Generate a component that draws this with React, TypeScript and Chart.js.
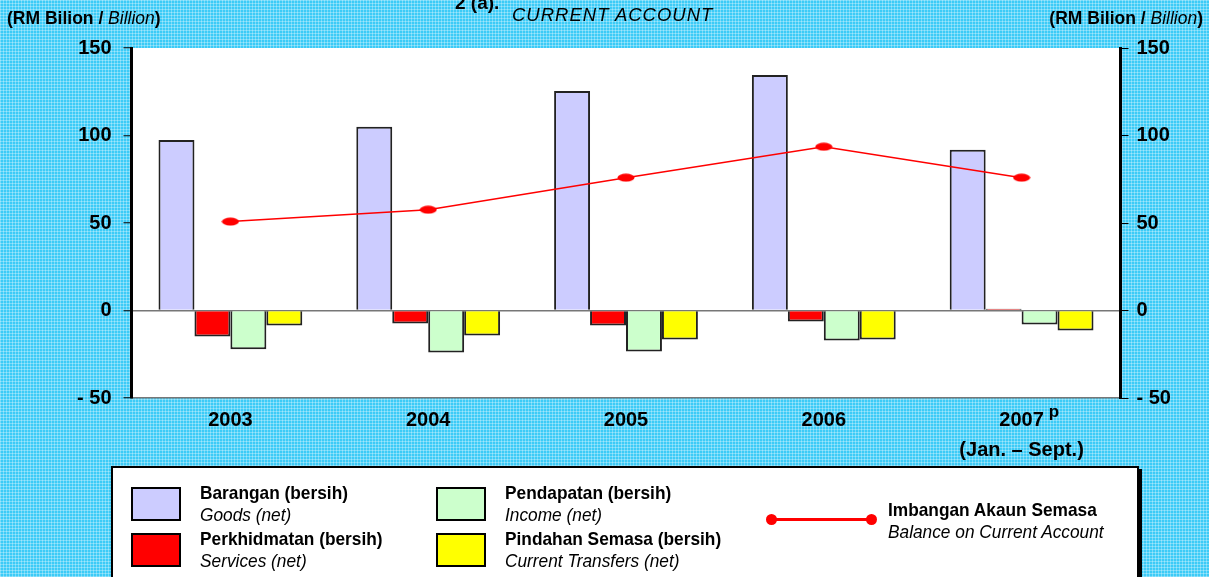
import React, { useEffect, useRef } from 'react';
import { Chart, registerables } from 'chart.js';

Chart.register(...registerables);

// ---------- data ----------
const categories = ['2003', '2004', '2005', '2006', '2007'];
const categoryNotes = ['', '', '', '', '(Jan. – Sept.)'];
const categorySup = ['', '', '', '', 'p'];
const goods = [97.5, 105, 125.5, 134.6, 91.8];
const services = [-14.8, -7.4, -8.6, -6.3, 1.0];
const income = [-22.2, -24.0, -23.4, -17.1, -8.0];
const transfers = [-8.6, -14.3, -16.5, -16.5, -11.4];
const balance = [50.8, 57.6, 75.9, 93.6, 75.9];
const yTicks = [-50, 0, 50, 100, 150];
const barNamesMalay = ['Barangan (bersih)', 'Perkhidmatan (bersih)', 'Pendapatan (bersih)', 'Pindahan Semasa (bersih)'];
const barNamesEnglish = ['Goods (net)', 'Services (net)', 'Income (net)', 'Current Transfers (net)'];
const lineNameMalay = 'Imbangan Akaun Semasa';
const lineNameEnglish = 'Balance on Current Account';
const unitMalay = 'RM Bilion';
const unitEnglish = 'Billion';
const titleNumber = '2 (a).';
const titleEnglish = 'CURRENT ACCOUNT';

// ---------- styles ----------
const FONT = "'Liberation Sans', Arial, sans-serif";
const barColors = ['#ccccff', '#ff0000', '#ccffcc', '#ffff00'];
const lineColor = '#ff0000';

const W = 1209;
const H = 577;

export default function App() {
  const ref = useRef<HTMLCanvasElement | null>(null);

  useEffect(() => {
    document.body.style.margin = '0';
    const canvas = ref.current;
    if (!canvas) return;

    const pc = document.createElement('canvas');
    pc.width = 18;
    pc.height = 9;
    const pctx = pc.getContext('2d')!;
    pctx.fillStyle = lineColor;
    pctx.beginPath();
    pctx.ellipse(9, 4.5, 8.5, 4, 0, 0, Math.PI * 2);
    pctx.fill();

    const plotBg = {
      id: 'plotBg',
      beforeDraw(chart: any) {
        const { ctx, chartArea } = chart;
        ctx.save();
        ctx.fillStyle = '#ffffff';
        ctx.fillRect(chartArea.left, chartArea.top, chartArea.right - chartArea.left, chartArea.bottom - chartArea.top);
        ctx.restore();
      },
    };

    const supPlugin = {
      id: 'supPlugin',
      afterDraw(chart: any) {
        const { ctx } = chart;
        const xs = chart.scales.x;
        ctx.save();
        ctx.fillStyle = '#000';
        categorySup.forEach((s, i) => {
          if (!s) return;
          const px = xs.getPixelForTick(i);
          ctx.font = `bold 20px ${FONT}`;
          const w = ctx.measureText(categories[i]).width;
          ctx.font = `bold 17px ${FONT}`;
          ctx.textAlign = 'left';
          ctx.textBaseline = 'alphabetic';
          ctx.fillText(s, px + w / 2 + 5, xs.top + 19);
        });
        ctx.restore();
      },
    };

    const tickFont = { family: FONT, size: 20, weight: 'bold' as const };

    const yCommon = {
      min: -50,
      max: 150,
      afterBuildTicks: (scale: any) => {
        scale.ticks = yTicks.map((v) => ({ value: v }));
      },
      ticks: {
        color: '#000',
        font: tickFont,
        callback: (v: any) => (v < 0 ? '- ' + Math.abs(v) : String(v)),
      },
      border: { display: true, color: '#000', width: 3 },
    };

    const chart = new Chart(canvas, {
      type: 'bar',
      data: {
        labels: categories.map((c, i) => (categoryNotes[i] ? [c, categoryNotes[i]] : c)),
        datasets: [
          ...[goods, services, income, transfers].map((d, i) => ({
            type: 'bar' as const,
            label: barNamesEnglish[i],
            data: d,
            backgroundColor: barColors[i],
            borderColor: '#222',
            borderWidth: 2,
            yAxisID: 'y',
            order: 2,
          })),
          {
            type: 'line' as const,
            label: lineNameEnglish,
            data: balance,
            borderColor: lineColor,
            borderWidth: 1.5,
            pointStyle: pc as any,
            pointRadius: 5,
            yAxisID: 'y',
            order: 0,
          } as any,
        ],
      },
      options: {
        responsive: false,
        animation: false,
        devicePixelRatio: 1,
        layout: { padding: { top: 48, left: 0, right: 0, bottom: 0 } },
        datasets: { bar: { categoryPercentage: 0.727, barPercentage: 1 } },
        plugins: { legend: { display: false }, tooltip: { enabled: false }, title: { display: false } },
        scales: {
          x: {
            grid: { display: false, drawTicks: false },
            border: { display: true, color: '#777', width: 1.5 },
            ticks: {
              color: '#000',
              padding: 7,
              maxRotation: 0,
              font: { ...tickFont, lineHeight: 1.5 },
            },
            afterFit: (s: any) => {
              s.height = 179;
            },
          },
          y: {
            ...yCommon,
            position: 'left',
            grid: {
              drawOnChartArea: true,
              drawTicks: true,
              tickLength: 8,
              tickColor: '#000',
              tickWidth: 1,
              lineWidth: 1.5,
              color: (ctx: any) => (ctx.tick && ctx.tick.value === 0 ? '#777' : 'rgba(0,0,0,0)'),
            },
            ticks: { ...yCommon.ticks, padding: 12 },
            afterFit: (s: any) => {
              s.width = 131.5;
            },
          },
          y1: {
            ...yCommon,
            position: 'right',
            grid: { drawOnChartArea: false, drawTicks: true, tickLength: 8, tickColor: '#000', tickWidth: 1 },
            ticks: { ...yCommon.ticks, padding: 8 },
            afterFit: (s: any) => {
              s.width = 88.5;
            },
          },
        },
      } as any,
      plugins: [plotBg, supPlugin],
    });

    return () => chart.destroy();
  }, []);

  const legendText = (malay: string, english: string, left: number, top: number) => (
    <div
      style={{
        position: 'absolute',
        left,
        top,
        fontFamily: FONT,
        fontSize: 19,
        lineHeight: '22px',
        color: '#000',
        whiteSpace: 'nowrap',
        transform: 'scaleX(0.91)',
        transformOrigin: 'left top',
      }}
    >
      <div style={{ fontWeight: 'bold' }}>{malay}</div>
      <div style={{ fontStyle: 'italic' }}>{english}</div>
    </div>
  );

  const swatchPos = [
    { left: 131, top: 487 },
    { left: 131, top: 533 },
    { left: 436, top: 487 },
    { left: 436, top: 533 },
  ];
  const legendOrder = [0, 1, 2, 3];

  const unitLabel = (
    <>
      <span style={{ fontWeight: 'bold' }}>({unitMalay} / </span>
      <span style={{ fontStyle: 'italic' }}>{unitEnglish}</span>
      <span style={{ fontWeight: 'bold' }}>)</span>
    </>
  );

  return (
    <div
      style={{
        position: 'fixed',
        left: 0,
        top: 0,
        width: W,
        height: H,
        overflow: 'hidden',
        backgroundColor: '#3ccbf7',
        backgroundImage:
          'repeating-linear-gradient(0deg, rgba(255,255,255,0.3) 0px, rgba(255,255,255,0.3) 1px, transparent 1px, transparent 3px), repeating-linear-gradient(90deg, rgba(255,255,255,0.3) 0px, rgba(255,255,255,0.3) 1px, transparent 1px, transparent 3px)',
        fontFamily: FONT,
      }}
    >
      <canvas ref={ref} width={W} height={H} style={{ position: 'absolute', left: 0, top: 0, width: W, height: H }} />

      {/* unit labels */}
      <div style={{ position: 'absolute', left: 7, top: 7, fontSize: 17.5, lineHeight: '22px', color: '#000', whiteSpace: 'nowrap' }}>
        {unitLabel}
      </div>
      <div style={{ position: 'absolute', right: 6, top: 7, fontSize: 17.5, lineHeight: '22px', color: '#000', whiteSpace: 'nowrap' }}>
        {unitLabel}
      </div>

      {/* title */}
      <div style={{ position: 'absolute', left: 455, top: -9, fontSize: 19, lineHeight: '24px', fontWeight: 'bold', color: '#000', whiteSpace: 'nowrap' }}>
        {titleNumber}
      </div>
      <div style={{ position: 'absolute', left: 512, top: 3, fontSize: 18.5, lineHeight: '24px', fontStyle: 'italic', letterSpacing: '1px', color: '#000', whiteSpace: 'nowrap' }}>
        {titleEnglish}
      </div>

      {/* legend */}
      <div
        style={{
          position: 'absolute',
          left: 111,
          top: 466,
          width: 1024,
          height: 140,
          background: '#fff',
          border: '2px solid #000',
          boxShadow: '3px 3px 0 #000',
        }}
      />
      {legendOrder.map((i) => (
        <React.Fragment key={i}>
          <div
            style={{
              position: 'absolute',
              left: swatchPos[i].left,
              top: swatchPos[i].top,
              width: 46,
              height: 30,
              background: barColors[i],
              border: '2px solid #000',
            }}
          />
          {legendText(barNamesMalay[i], barNamesEnglish[i], swatchPos[i].left + 69, swatchPos[i].top - 5)}
        </React.Fragment>
      ))}
      <div style={{ position: 'absolute', left: 771, top: 518, width: 100, height: 3, background: lineColor }} />
      <div style={{ position: 'absolute', left: 766, top: 514, width: 11, height: 11, borderRadius: '50%', background: lineColor }} />
      <div style={{ position: 'absolute', left: 866, top: 514, width: 11, height: 11, borderRadius: '50%', background: lineColor }} />
      {legendText(lineNameMalay, lineNameEnglish, 888, 499)}
    </div>
  );
}
